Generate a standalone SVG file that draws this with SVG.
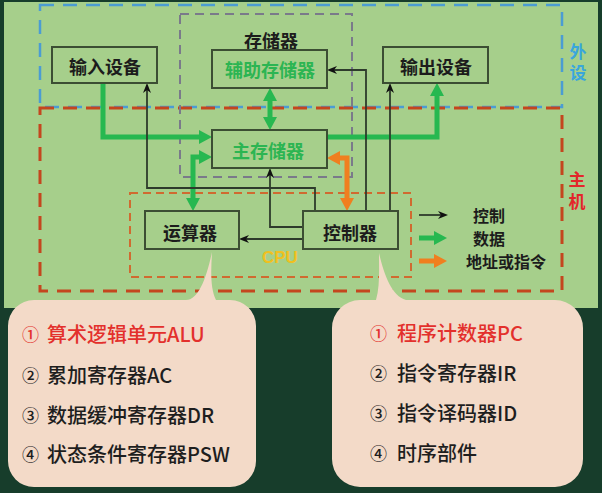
<svg xmlns="http://www.w3.org/2000/svg" width="602" height="493" viewBox="0 0 602 493">
<defs>
<style>
.box{fill:#a6cf8b;stroke:#3b4e33;stroke-width:2}
.lbl{font-family:"Noto Sans CJK SC","Noto Sans",sans-serif;font-weight:bold;font-size:18px;text-anchor:middle;dominant-baseline:central;fill:#1c1c1c}
.glbl{fill:#2cb552}
.ctl{fill:none;stroke:#2e3b2c;stroke-width:1.8;marker-end:url(#ba)}
.dat{fill:none;stroke:#27b850;stroke-width:5;marker-end:url(#ga)}
.dbl{marker-start:url(#ga)}
.adr{fill:none;stroke:#f07f1f;stroke-width:5;marker-start:url(#oa);marker-end:url(#oa)}
.leg{font-family:"Noto Sans CJK SC","Noto Sans",sans-serif;font-weight:bold;font-size:16px;dominant-baseline:central;fill:#1c1c1c}
.side{font-family:"Noto Sans CJK SC","Noto Sans",sans-serif;font-weight:bold;font-size:17px;text-anchor:middle;dominant-baseline:central;writing-mode:vertical-rl}
.item{font-family:"Noto Sans CJK SC","Noto Sans",sans-serif;font-weight:500;font-size:20px;dominant-baseline:central;fill:#1e1e1e}
.num{font-size:17px}
.red{fill:#e3302c}
.bubble{fill:#f3dac8}
</style>
<marker id="ga" markerUnits="userSpaceOnUse" markerWidth="13" markerHeight="14" refX="1" refY="7" orient="auto-start-reverse"><path d="M0,0 L13,7 L0,14 z" fill="#27b850"/></marker>
<marker id="oa" markerUnits="userSpaceOnUse" markerWidth="13" markerHeight="14" refX="1" refY="7" orient="auto-start-reverse"><path d="M0,0 L13,7 L0,14 z" fill="#f07f1f"/></marker>
<marker id="ba" markerUnits="userSpaceOnUse" markerWidth="10" markerHeight="8" refX="3" refY="4" orient="auto"><path d="M0,0 L10,4 L0,8 L3,4 z" fill="#111"/></marker>
</defs>
<rect x="0" y="0" width="602" height="493" fill="#173d2b"/>
<rect x="4" y="2" width="594" height="306" fill="#a6cf8b"/>
<g id="frames" fill="none">
<rect x="40" y="5" width="522" height="102" stroke="#4b9cd3" stroke-width="2.5" stroke-dasharray="14 9"/>
<rect x="40" y="108" width="522" height="183" stroke="#c4461e" stroke-width="3" stroke-dasharray="14 9"/>
<rect x="180" y="14" width="172" height="163" stroke="#7a7a8a" stroke-width="2" stroke-dasharray="9 6"/>
<rect x="130" y="193" width="281" height="84" stroke="#d06a30" stroke-width="2" stroke-dasharray="8 5"/>
</g>
<text class="side" x="578" y="64" fill="#39a6dd" letter-spacing="4">外设</text>
<text class="side" x="577" y="193" fill="#e3262a" letter-spacing="5">主机</text>
<text class="lbl" x="271" y="40">存储器</text>
<text x="262" y="257" font-family="Liberation Sans,Arial,sans-serif" font-weight="bold" font-size="17" dominant-baseline="central" fill="#f0c020">CPU</text>
<g id="connectors">
<path class="dat" d="M103,83 V137 H200"/>
<path class="dat" d="M327,137 H437 V95"/>
<path class="dat dbl" d="M270,100 V118"/>
<path class="dat dbl" d="M200,157 H193 V199"/>
<path class="adr" d="M339,158 H347 V199"/>
<path class="ctl" d="M315,211 V188 H147 V90"/>
<path class="ctl" d="M302,227 H270 V175"/>
<path class="ctl" d="M302,239 H246"/>
<path class="ctl" d="M366,211 V70 H334"/>
<path class="ctl" d="M390,211 V90"/>
</g>
<g id="input"><rect class="box" x="52" y="47" width="105" height="36"/><text class="lbl" x="105" y="66">输入设备</text></g>
<g id="output"><rect class="box" x="383" y="47" width="105" height="36"/><text class="lbl" x="436" y="66">输出设备</text></g>
<g id="aux"><rect class="box" x="212" y="50" width="115" height="38"/><text class="lbl glbl" x="270" y="69">辅助存储器</text></g>
<g id="main"><rect class="box" x="212" y="130" width="115" height="38"/><text class="lbl glbl" x="268" y="150">主存储器</text></g>
<g id="alu"><rect class="box" x="145" y="211" width="94" height="38"/><text class="lbl" x="190" y="232">运算器</text></g>
<g id="cu"><rect class="box" x="303" y="211" width="95" height="38"/><text class="lbl" x="350" y="232">控制器</text></g>
<g id="legend">
<path class="ctl" d="M419,215 H441"/>
<path class="dat" d="M419,238 H435"/>
<path fill="none" stroke="#f07f1f" stroke-width="5" marker-end="url(#oa)" d="M419,261 H435"/>
<text class="leg" x="473" y="215">控制</text>
<text class="leg" x="473" y="238">数据</text>
<text class="leg" x="466" y="261">地址或指令</text>
</g>
<g id="alu-callout">
<path class="bubble" d="M34,300 H186 C198,300 206,280 212,252 C211,270 210,288 216,300 H230 A26,26 0 0 1 256,326 V461 A26,26 0 0 1 230,487 H34 A26,26 0 0 1 8,461 V326 A26,26 0 0 1 34,300 Z"/>
<text class="item red" y="333"><tspan class="num" x="22">①</tspan><tspan x="47">算术逻辑单元ALU</tspan></text>
<text class="item" y="374"><tspan class="num" x="22">②</tspan><tspan x="47">累加寄存器AC</tspan></text>
<text class="item" y="414"><tspan class="num" x="22">③</tspan><tspan x="47">数据缓冲寄存器DR</tspan></text>
<text class="item" y="453"><tspan class="num" x="22">④</tspan><tspan x="47">状态条件寄存器PSW</tspan></text>
</g>
<g id="cu-callout">
<path class="bubble" d="M360,300 H376 C380,286 379,270 379,253 C384,275 392,296 406,300 H555 A28,28 0 0 1 583,328 V459 A28,28 0 0 1 555,487 H360 A28,28 0 0 1 332,459 V328 A28,28 0 0 1 360,300 Z"/>
<text class="item red" y="332"><tspan class="num" x="370">①</tspan><tspan x="397">程序计数器PC</tspan></text>
<text class="item" y="372"><tspan class="num" x="370">②</tspan><tspan x="397">指令寄存器IR</tspan></text>
<text class="item" y="412"><tspan class="num" x="370">③</tspan><tspan x="397">指令译码器ID</tspan></text>
<text class="item" y="452"><tspan class="num" x="370">④</tspan><tspan x="397">时序部件</tspan></text>
</g>
</svg>
